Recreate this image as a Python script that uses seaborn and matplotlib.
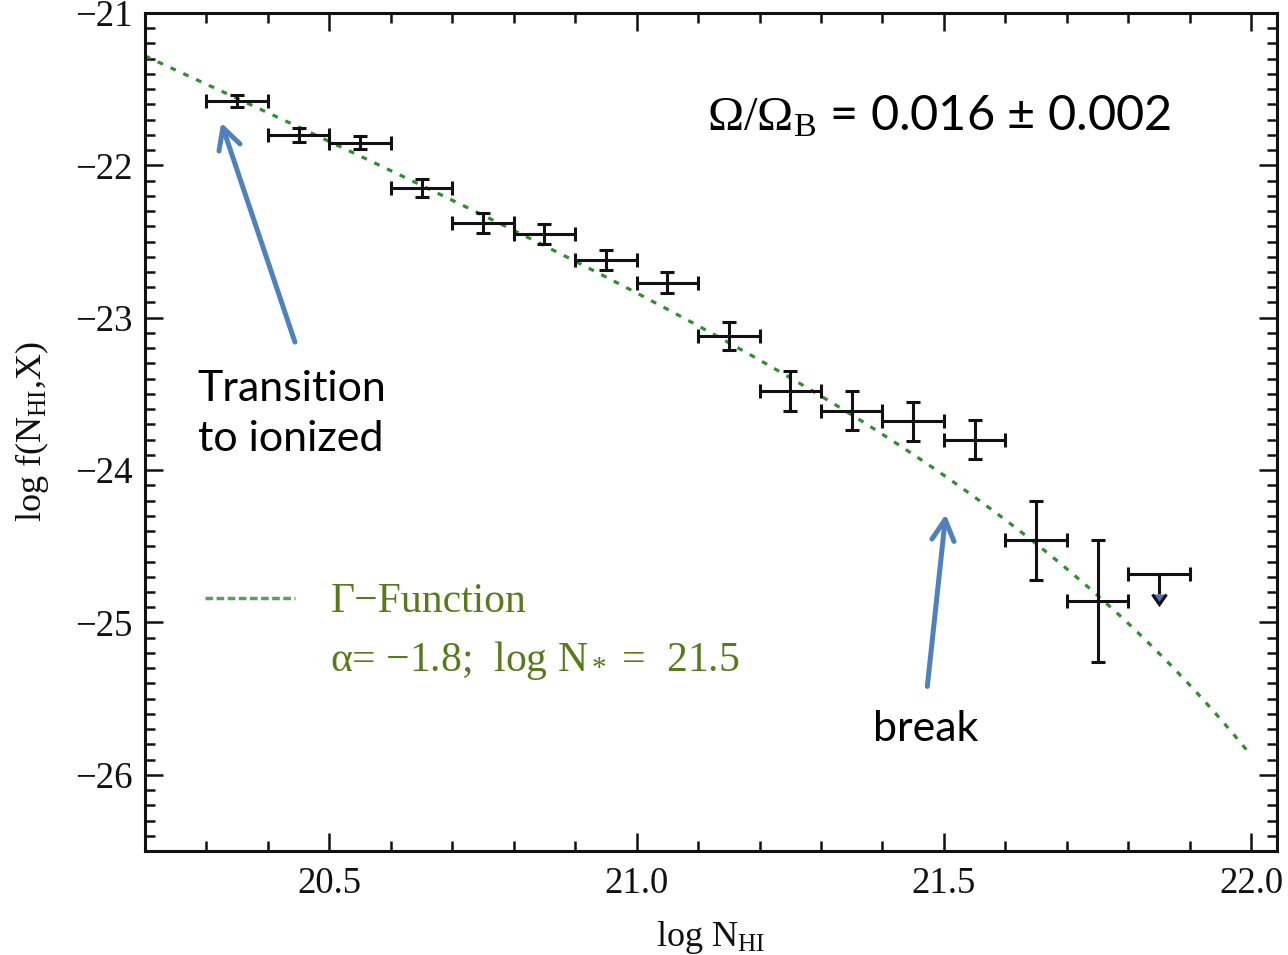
import numpy as np
import pandas as pd
import matplotlib
matplotlib.use("Agg")
import matplotlib.pyplot as plt
from matplotlib.ticker import MultipleLocator, FormatStrFormatter, FuncFormatter
from matplotlib.lines import Line2D
import seaborn as sns

# Binned column-density distribution: bin centres, log f and 1-sigma errors
log_nhi = [20.35, 20.45, 20.55, 20.65, 20.75, 20.85, 20.95, 21.05,
           21.15, 21.25, 21.35, 21.45, 21.55, 21.65, 21.75]
log_f = [-21.58, -21.80, -21.85, -22.15, -22.38, -22.45, -22.62, -22.77,
         -23.12, -23.48, -23.61, -23.68, -23.80, -24.46, -24.86]
log_f_err = [0.04, 0.045, 0.04, 0.06, 0.065, 0.065, 0.065, 0.07,
             0.095, 0.13, 0.13, 0.13, 0.13, 0.26, 0.40]
bin_halfwidth = [0.05] * len(log_nhi)

# Highest-column bin: upper limit only
limit_log_nhi = [21.85]
limit_log_f = [-24.68]
limit_arrow = [0.13]
limit_halfwidth = [0.05]

# Gamma-function fit parameters
gamma_alpha = -1.8
gamma_log_nstar = 21.5
gamma_log_fstar = -23.60

sns.set_theme(style="ticks")
plt.rcParams.update({
    "mathtext.fontset": "custom",
    "mathtext.rm": "Liberation Serif",
    "mathtext.it": "Liberation Serif:italic",
    "mathtext.bf": "Liberation Serif:bold",
    "axes.unicode_minus": True,
})
plt.rcParams["font.family"] = ["Liberation Serif", "DejaVu Serif"]

fig = plt.figure(figsize=(12.88, 9.55), dpi=100)
ax = fig.add_axes([145 / 1288, 104 / 955, 1132 / 1288, 838 / 955])

# Gamma-function model curve
grid = np.linspace(20.2, 22.0, 300)
model = (gamma_log_fstar + gamma_alpha * (grid - gamma_log_nstar)
         - 10 ** (grid - gamma_log_nstar) * np.log10(np.e))
curve = pd.DataFrame({"log_nhi": grid, "log_f": model})
sns.lineplot(data=curve, x="log_nhi", y="log_f", ax=ax, color="#2f8f2f",
             lw=2.3, linestyle=(0, (1.8, 2.6)), legend=False)

# Measured bins
err_style = dict(fmt="none", ecolor="#111111", elinewidth=2.2,
                 capsize=4.7, capthick=2.2)
ax.errorbar(log_nhi, log_f, xerr=bin_halfwidth, yerr=log_f_err, **err_style)
ax.errorbar(limit_log_nhi, limit_log_f, xerr=limit_halfwidth, yerr=limit_arrow,
            uplims=True, **err_style)

ax.set_xlim(20.2, 22.042)
ax.set_ylim(-26.5, -21.0)
ax.xaxis.set_major_locator(MultipleLocator(0.5))
ax.xaxis.set_minor_locator(MultipleLocator(0.1))
ax.yaxis.set_major_locator(MultipleLocator(1.0))
ax.yaxis.set_minor_locator(MultipleLocator(0.1))
ax.xaxis.set_major_formatter(FormatStrFormatter("%.1f"))
ax.yaxis.set_major_formatter(FuncFormatter(lambda v, p: f"\u2212{abs(v):.0f}"))
ax.tick_params(which="both", direction="in", top=True, right=True,
               width=1.8, color="#111111", labelsize=26.5, labelcolor="#111111")
ax.tick_params(which="major", length=13)
ax.tick_params(which="minor", length=7)
ax.tick_params(axis="x", which="major", pad=11)
ax.tick_params(axis="y", which="major", pad=9)
for s in ax.spines.values():
    s.set_linewidth(2.2)
    s.set_color("#111111")
ax.set_facecolor("white")

ax.set_xlabel(r"log N$_{\rm HI}$", fontsize=26, color="#111111", labelpad=13)
ax.set_ylabel(r"log f(N$_{\rm HI}$,X)", fontsize=26, color="#111111", labelpad=17)

# Legend for the fit
legend_green = "#577a1a"
handles = [Line2D([], [], color="#5aa05a", lw=2.5, linestyle=(0, (2.2, 1.0))),
           Line2D([], [], color="none")]
labels = ["\u0393\u2212Function", "\u03b1= \u22121.8;  log N$_*$ =  21.5"]
leg = ax.legend(handles, labels, loc="upper left", bbox_to_anchor=(0.0195, 0.365),
                frameon=False, fontsize=30, handlelength=2.16, handletextpad=0.86,
                labelspacing=0.44, labelcolor=legend_green)

# Annotations
sans = "Lato"
arrow_color = "#4f81bd"
arrow_kw = dict(arrowstyle="->,head_length=0.75,head_width=0.4",
                color=arrow_color, lw=3.6, shrinkA=0, shrinkB=0, mutation_scale=20)
ax.annotate("", xy=(20.324, -21.72), xytext=(20.444, -23.16), arrowprops=arrow_kw)
ax.annotate("", xy=(21.503, -24.29), xytext=(21.473, -25.42), arrowprops=arrow_kw)

ax.text(20.286, -23.63, "Transition\nto ionized", fontfamily=sans, fontsize=31,
        color="black", ha="left", va="center", linespacing=1.4)
ax.text(21.385, -25.70, "break", fontfamily=sans, fontsize=31,
        color="black", ha="left", va="center")
ax.text(21.115, -21.68, r"$\Omega/\Omega_{\rm B}$ = 0.016 ± 0.002", fontfamily=sans,
        fontsize=35, color="black", ha="left", va="center")

fig.savefig("out.png", dpi=100, facecolor="white")
